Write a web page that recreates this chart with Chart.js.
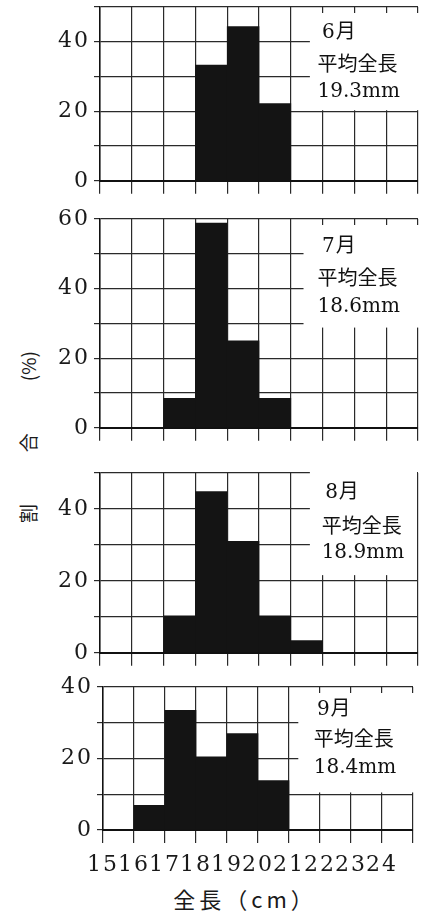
<!DOCTYPE html>
<html><head><meta charset="utf-8">
<script src="https://cdn.jsdelivr.net/npm/chart.js@4.4.1/dist/chart.umd.min.js"></script>
<style>
html,body{margin:0;padding:0;background:#fff;}
body{width:422px;height:916px;position:relative;overflow:hidden;}
canvas{position:absolute;left:0;}
#ytitle{position:absolute;left:-58px;top:426px;width:172px;height:22px;line-height:22px;
  transform:rotate(-90deg);transform-origin:50% 50%;display:flex;justify-content:space-between;
  font-family:"Noto Sans CJK JP";font-size:19px;color:#1a1a1a;}
#xtitle{position:absolute;left:143px;top:883px;width:204px;text-align:center;line-height:30px;
  font-family:"Noto Sans CJK JP";font-size:22px;letter-spacing:4px;color:#1a1a1a;}
</style></head><body>
<div id="ytitle"><span>割</span><span>合</span><span>(%)</span></div>
<div id="xtitle">全長（cm）</div>
<script>
// ---- data ----
const binStarts = [15, 16, 17, 18, 19, 20, 21, 22, 23, 24];
const xTickLabels = ['15', '16', '17', '18', '19', '20', '21', '22', '23', '24'];
const juneValues = [0, 0, 0, 33.3, 44.4, 22.2, 0, 0, 0, 0];
const julyValues = [0, 0, 8.5, 58.8, 25, 8.5, 0, 0, 0, 0];
const augustValues = [0, 0, 10.3, 44.8, 31, 10.3, 3.4, 0, 0, 0];
const septemberValues = [0, 6.9, 33.5, 20.5, 27, 13.8, 0, 0, 0, 0];
const monthLabels = ['6月', '7月', '8月', '9月'];
const legendHeading = '平均全長';
const meanLengths = ['19.3mm', '18.6mm', '18.9mm', '18.4mm'];
const yMaxima = [50, 60, 50, 40];
const yLabelEvery = 20;

// ---- layout (pixels / scale values, not data) ----
const layout = [
  {top: 7,   bottom: 184, left: 100, right: 418, box: {left: 21.6, bottom: 20.3, topInset: 6,  coverRight: true},  textX: 21.84, monthX: 21.98, lines: [26, 56, 85]},
  {top: 219, bottom: 431, left: 100, right: 418, box: {left: 21.4, bottom: 28.8, topInset: 6,  coverRight: true},  textX: 21.84, monthX: 21.98, lines: [28, 58, 88]},
  {top: 473, bottom: 656, left: 100, right: 418, box: {left: 21.6, bottom: 21.6, topInset: -2, coverRight: false}, textX: 21.97, monthX: 22.08, lines: [20, 52, 80]},
  {top: 687, bottom: 830, left: 103, right: 420, box: {left: 21.3, bottom: 10.5, topInset: 6,  coverRight: true},  textX: 21.8,  monthX: 21.9,  lines: [23, 51, 81]}
];
const seriesList = [juneValues, julyValues, augustValues, septemberValues];
const PAD_TOP = 20;
const LINE = '#2a2a2a';
const INK = '#111111';
const SERIF = '"DejaVu Serif", "Liberation Serif", serif';
const CJK = '"Noto Sans CJK JP", sans-serif';

function legendPlugin(i) {
  return {
    id: 'legendBox' + i,
    beforeDraw(chart) { chart.ctx.letterSpacing = '2px'; },
    beforeDatasetsDraw(chart) {
      const {ctx, chartArea: a, scales: {x, y}} = chart;
      const L = layout[i], b = L.box;
      const left = x.getPixelForValue(b.left);
      const right = b.coverRight ? a.right + 3 : a.right - 1;
      const top = a.top + b.topInset;
      const bottom = y.getPixelForValue(b.bottom);
      ctx.save();
      ctx.letterSpacing = '0px';
      ctx.fillStyle = '#ffffff';
      ctx.fillRect(left, top, right - left, bottom - top);
      ctx.fillStyle = INK;
      ctx.textBaseline = 'middle';
      ctx.textAlign = 'left';
      ctx.font = '20px ' + SERIF + ', ' + CJK;
      ctx.letterSpacing = '1px';
      ctx.fillText(monthLabels[i], x.getPixelForValue(L.monthX), a.top + L.lines[0]);
      ctx.letterSpacing = '0px';
      ctx.font = '20px ' + CJK;
      ctx.fillText(legendHeading, x.getPixelForValue(L.textX), a.top + L.lines[1]);
      ctx.font = '20px ' + SERIF;
      ctx.fillText(meanLengths[i], x.getPixelForValue(L.textX), a.top + L.lines[2]);
      ctx.restore();
    }
  };
}

layout.forEach((L, i) => {
  const last = i === layout.length - 1;
  const xAxisH = last ? 60 : 14;
  const h = PAD_TOP + (L.bottom - L.top) + xAxisH;
  const cv = document.createElement('canvas');
  cv.width = 422; cv.height = h;
  cv.style.top = (L.top - PAD_TOP) + 'px';
  cv.style.width = '422px'; cv.style.height = h + 'px';
  document.body.appendChild(cv);

  const points = binStarts.map((s, k) => ({x: s + 0.5, y: seriesList[i][k]}));

  new Chart(cv, {
    type: 'bar',
    data: {datasets: [{data: points, backgroundColor: '#141414', borderWidth: 0,
      barPercentage: 1, categoryPercentage: 1}]},
    options: {
      responsive: false, animation: false, events: [],
      layout: {padding: {top: PAD_TOP, left: 0, right: 422 - L.right, bottom: 0}},
      plugins: {legend: {display: false}, tooltip: {enabled: false}},
      scales: {
        x: {
          type: 'linear', min: binStarts[0], max: binStarts[binStarts.length - 1] + 1,
          offset: false,
          grid: {offset: false, color: LINE, lineWidth: 1.2, drawTicks: true, tickLength: 13, tickColor: LINE},
          border: {display: true, color: INK, width: 2},
          ticks: {
            display: last, stepSize: 1, autoSkip: false, maxRotation: 0, minRotation: 0,
            padding: 9, color: '#1a1a1a', font: {family: SERIF, size: 22},
            callback: (v) => { const k = binStarts.indexOf(v); return k >= 0 ? xTickLabels[k] : ''; }
          },
          afterFit: (s) => { s.height = xAxisH; }
        },
        y: {
          min: 0, max: yMaxima[i],
          grid: {color: LINE, lineWidth: 1.2, drawTicks: true, tickLength: 6, tickColor: LINE},
          border: {display: true, color: INK, width: 1.5},
          ticks: {
            stepSize: 10, autoSkip: false, padding: 4, color: '#1a1a1a',
            font: {family: SERIF, size: 22},
            callback: (v) => (v % yLabelEvery === 0 ? String(v) : '')
          },
          afterFit: (s) => { s.width = L.left; }
        }
      }
    },
    plugins: [legendPlugin(i)]
  });
});
</script>
</body></html>
